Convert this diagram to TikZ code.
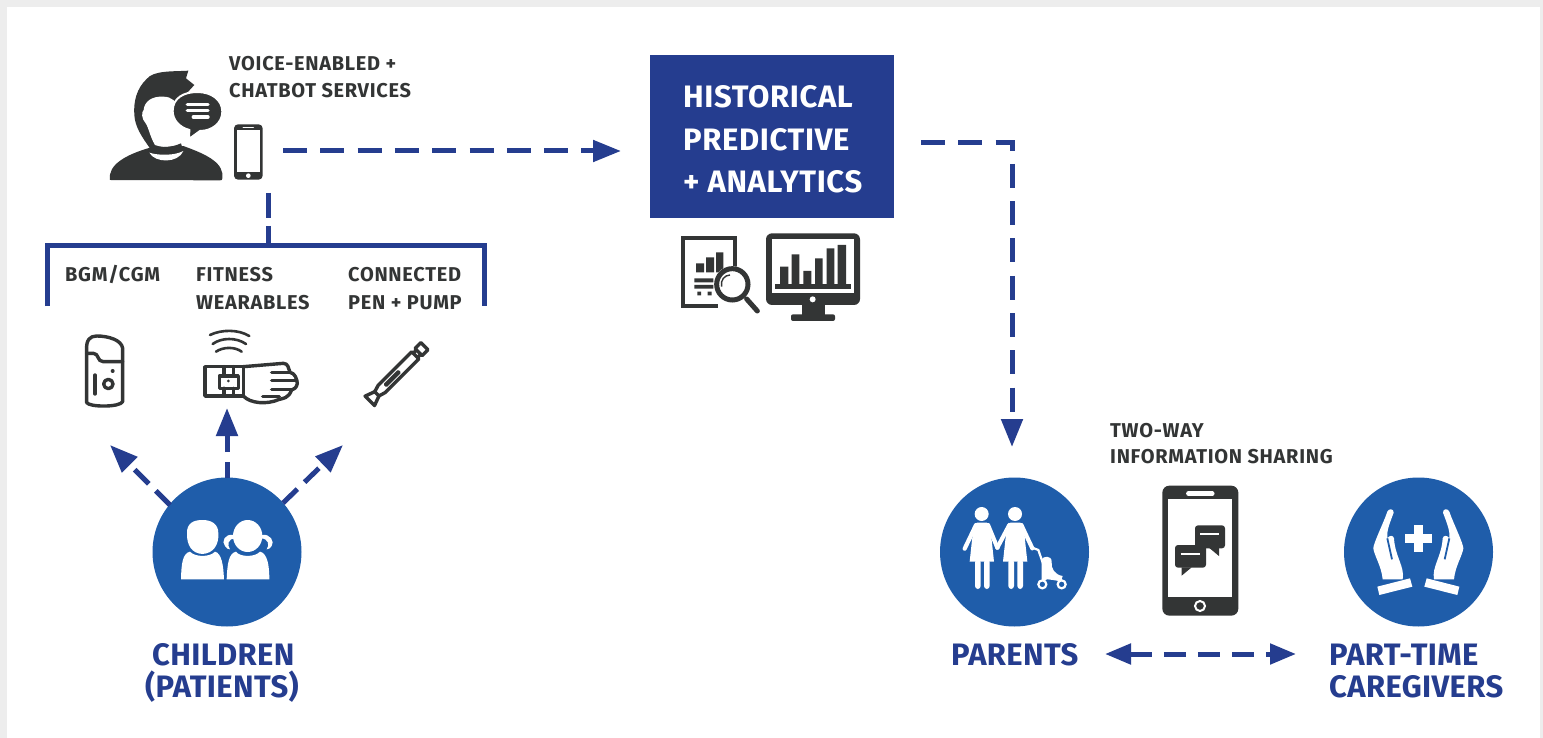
\documentclass[tikz,border=0pt]{standalone}
\usepackage{fontspec}
\usetikzlibrary{arrows.meta}
\setmainfont{Fira Sans}
\definecolor{navy}{HTML}{253D8F}
\definecolor{disc}{HTML}{1F5DAA}
\definecolor{ink}{HTML}{333535}
\definecolor{frame}{HTML}{EDEDED}
\tikzset{
  zm/.style 2 args={shift={(#1,#2)},x=.33333pt,y=-.33333pt},
  dashline/.style={draw=navy,line width=5pt,dash pattern=on 24pt off 13.3pt},
  solidarrow/.style={-{Triangle[length=28pt,width=21pt,fill=navy]}},
  dbl/.style={{Triangle[length=26pt,width=20pt,fill=navy]}-{Triangle[length=26pt,width=20pt,fill=navy]}},
  discnode/.style={circle,fill=disc,minimum size=149pt,inner sep=0pt,draw=none},
  lab/.style={anchor=base west,inner sep=0pt,text=ink,font=\fontsize{20}{24}\selectfont\bfseries\addfontfeature{LetterSpace=3.5}},
  big/.style={anchor=base west,inner sep=0pt,text=navy,font=\fontsize{31}{36}\selectfont\bfseries\addfontfeature{LetterSpace=1.2}},
  boxtext/.style={anchor=base west,inner sep=0pt,text=white,font=\fontsize{31}{36}\selectfont\bfseries\addfontfeature{LetterSpace=2}},
  iconline/.style={draw=ink,line width=3.4pt,line cap=round,line join=round},
}
\begin{document}
\begin{tikzpicture}[x=1pt,y=-1pt]
\useasboundingbox (0,0) rectangle (1543,738);
\fill[frame] (0,0) rectangle (1543,738);
\fill[white] (7,7) rectangle (1540,738);

% main box
\node[fill=navy,minimum width=244pt,minimum height=163pt,inner sep=0pt,anchor=north west] (box) at (650,55) {};
\node[boxtext] (t1) at (683,108) {HISTORICAL};
\node[boxtext] (t2) at (683,151) {PREDICTIVE};
\node[boxtext] (t3) at (683,193) {+ ANALYTICS};

% discs
\node[discnode] (children) at (227,552) {};
\node[discnode] (parents) at (1014.5,552) {};
\node[discnode] (care) at (1418.5,552) {};

% labels
\node[lab] (l1) at (229,71) {VOICE-ENABLED +};
\node[lab] (l2) at (229,98) {CHATBOT SERVICES};
\node[lab] (l3) at (65,282) {BGM/CGM};
\node[lab] (l4) at (196,282) {FITNESS};
\node[lab] (l5) at (196,309) {WEARABLES};
\node[lab] (l6) at (348,282) {CONNECTED};
\node[lab] (l7) at (348,309) {PEN + PUMP};
\node[lab] (l8) at (1110,437) {TWO-WAY};
\node[lab] (l9) at (1110,463) {INFORMATION SHARING};
\node[big] (b1) at (152,665) {CHILDREN};
\node[big] (b2) at (145,697) {(PATIENTS)};
\node[big] (b3) at (951,665) {PARENTS};
\node[big] (b4) at (1329,665) {PART-TIME};
\node[big] (b5) at (1329,697) {CAREGIVERS};

% connector anchors
\coordinate (phoneR) at (283,151);
\coordinate (boxIn) at (621,151);
\coordinate (boxOut) at (921,143);
\coordinate (corner) at (1012,143);
\coordinate (parentsIn) at (1012,447);
\coordinate (phoneB) at (268,193);
\coordinate (brTop) at (268,246);
\coordinate (brL) at (47,306);
\coordinate (brLt) at (47,246);
\coordinate (brRt) at (484,246);
\coordinate (brR) at (484,306);
\coordinate (a1) at (110,445);
\coordinate (a2) at (227,408);
\coordinate (a3) at (343,445);
\coordinate (s1) at (170,505);
\coordinate (s2) at (227,478);
\coordinate (s3) at (283,503);
\coordinate (dL) at (1105,654);
\coordinate (dR) at (1296,654);

% connectors
\draw[dashline,solidarrow] (phoneR) -- (boxIn);
\draw[dashline,solidarrow] (boxOut) -- (corner) -- (parentsIn);
\draw[dashline,dash pattern=on 25pt off 8pt] (phoneB) -- (brTop);
\draw[navy,line width=5pt] (brL) -- (brLt) -- (brRt) -- (brR);
\draw[dashline,dash pattern=on 20pt off 10pt,solidarrow] (s1) -- (a1);
\draw[dashline,dash pattern=on 16pt off 10pt,solidarrow] (s2) -- (a2);
\draw[dashline,dash pattern=on 20pt off 10pt,solidarrow] (s3) -- (a3);
\draw[dashline,dash pattern=on 22pt off 12pt,dbl] (dL) -- (dR);

% person with bubble
\begin{scope}[zm={105}{65}]
\fill[ink] (15,345) .. controls (8,300) and (60,270) .. (135,248) -- (235,243) .. controls (310,270) and (358,295) .. (352,340) .. controls (352,345) and (350,346) .. (345,346) -- cycle;
\fill[ink] (135,250) .. controls (110,215) and (90,185) .. (88,150) .. controls (85,110) and (95,70) .. (125,42) .. controls (145,15) and (210,20) .. (250,17) -- (243,40) -- (268,60) -- (245,85) -- (225,100) -- (200,240) -- cycle;
\fill[white] (150,240) .. controls (135,215) and (130,185) .. (122,175) .. controls (108,160) and (110,140) .. (116,135) .. controls (118,110) and (140,93) .. (175,95) .. controls (200,95) and (215,110) .. (220,130) -- (240,215) .. controls (225,235) and (200,245) .. (180,245) .. controls (170,245) and (160,245) .. (150,240) -- cycle;
\fill[ink] (148,243) .. controls (170,248) and (200,248) .. (228,235) -- (236,262) -- (134,262) -- cycle;
\fill[white] (133,263) .. controls (160,272) and (210,272) .. (235,258) .. controls (220,295) and (150,295) .. (133,263) -- cycle;
\fill[ink,draw=white,line width=2pt] (203,138) .. controls (203,100) and (235,81) .. (277,81) .. controls (320,81) and (352,105) .. (352,140) .. controls (352,175) and (320,198) .. (285,198) -- (252,222) -- (253,195) .. controls (223,187) and (203,165) .. (203,138) -- cycle;
\draw[white,line width=3.4pt,line cap=round] (247,118) -- (309,118) (247,137) -- (309,137) (265,156) -- (309,156);
\end{scope}

% phone
\begin{scope}[zm={90}{50}]
\fill[ink,rounded corners=4pt] (432,223) rectangle (518,389);
\fill[white] (440,240) rectangle (510,365);
\draw[white,line width=1.5pt,line cap=round] (460,233) -- (490,233);
\fill[white] (475,377) circle (7);
\end{scope}

% meter
\begin{scope}[zm={40}{320}]
\draw[iconline] (140,90) .. controls (138,60) and (150,48) .. (170,48) .. controls (205,48) and (245,60) .. (248,85) -- (248,245) .. controls (240,262) and (150,262) .. (140,248) -- cycle;
\draw[iconline] (140,100) -- (160,100) .. controls (178,100) and (170,125) .. (190,125) -- (248,125);
\draw[iconline] (165,165) -- (165,222);
\draw[iconline] (205,192) circle (14);
\fill[ink] (218,153) circle (6);
\end{scope}

% wrist wearable
\begin{scope}[zm={40}{320}]
\draw[iconline,line width=2.6pt] (510,45) .. controls (545,28) and (595,28) .. (628,48);
\draw[iconline,line width=2.6pt] (518,72) .. controls (545,52) and (590,52) .. (618,72);
\draw[iconline,line width=2.6pt] (528,95) .. controls (550,80) and (585,80) .. (605,95);
\draw[iconline] (495,140) rectangle (610,228);
\draw[iconline] (538,168) rectangle (595,205);
\draw[iconline] (552,140) -- (552,168) (580,140) -- (580,168) (552,205) -- (552,228) (580,205) -- (580,228);
\fill[ink] (565,183) circle (4.5);
\draw[iconline] (610,140) -- (730,130) .. controls (745,130) and (745,145) .. (750,157) .. controls (765,160) and (770,175) .. (772,190) .. controls (770,205) and (760,208) .. (755,210) .. controls (745,235) and (730,235) .. (718,238) .. controls (680,255) and (630,250) .. (610,228);
\draw[iconline] (695,157) -- (750,157) (695,182) -- (770,182) (695,208) -- (755,208) (668,230) -- (718,230);
\end{scope}

% pen
\begin{scope}[shift={(373.33,397.33)},rotate=45,x=.33333pt,y=-.33333pt]
\draw[iconline] (-15,-20) -- (-15,20) -- (15,9) -- (15,-9) -- cycle;
\draw[iconline] (15,-9) -- (35,-15) -- (178,-15) -- (178,15) -- (35,15) -- (15,9);
\draw[iconline] (178,-9) -- (192,-9) (178,9) -- (192,9);
\draw[iconline] (192,-15) rectangle (217,15);
\draw[iconline,line width=2.4pt] (52,-3) -- (108,-3) -- (108,3) -- (52,3) -- cycle;
\end{scope}

% report + magnifier
\begin{scope}[zm={670}{225}]
\draw[ink,line width=4pt] (195,128) -- (195,40) -- (40,40) -- (40,242) -- (145,242);
\fill[ink] (78,115) rectangle (102,142) (108,97) rectangle (132,142) (138,82) rectangle (160,142);
\fill[ink] (73,160) rectangle (130,172) (73,180) rectangle (130,191);
\fill[ink] (82,200) rectangle (93,211) (113,200) rectangle (125,211);
\fill[white] (187,178) circle (55);
\draw[ink,line width=5pt] (187,178) circle (47);
\draw[ink,line width=1.4pt] (155,185) .. controls (150,165) and (165,150) .. (180,150);
\draw[ink,line width=5pt,line cap=round] (230,222) -- (262,258);
\end{scope}

% monitor
\begin{scope}[zm={670}{225}]
\fill[ink,rounded corners=6pt] (288,25) rectangle (570,240);
\fill[white] (305,42) rectangle (553,205);
\fill[ink] (330,125) rectangle (355,180) (365,88) rectangle (388,180) (400,138) rectangle (424,180) (435,100) rectangle (458,180) (470,70) rectangle (493,180) (503,60) rectangle (528,180);
\fill[ink] (316,178) rectangle (542,192);
\fill[white] (428,223) circle (9);
\fill[ink] (395,238) rectangle (465,272);
\fill[ink,rounded corners=2pt] (363,268) rectangle (495,288);
\end{scope}

% children icon
\begin{scope}[zm={140}{470}]
\fill[white] (141,190) .. controls (140,160) and (160,150) .. (187,150) .. controls (215,150) and (235,162) .. (235,190) .. controls (237,225) and (220,250) .. (187,252) .. controls (155,250) and (140,225) .. (141,190) -- cycle;
\fill[white] (123,328) .. controls (124,280) and (128,250) .. (150,245) .. controls (165,262) and (210,262) .. (225,245) .. controls (245,250) and (250,285) .. (252,328) -- cycle;
\fill[white] (280,195) .. controls (255,190) and (243,215) .. (255,228) .. controls (258,235) and (265,238) .. (270,238) .. controls (260,225) and (265,205) .. (285,205) -- cycle;
\fill[white] (366,195) .. controls (390,190) and (405,215) .. (395,228) .. controls (392,235) and (385,238) .. (380,238) .. controls (390,225) and (385,205) .. (362,205) -- cycle;
\fill[white] (323,198) ellipse (44 and 48);
\fill[white] (260,328) .. controls (262,285) and (265,250) .. (288,245) .. controls (300,262) and (345,262) .. (360,245) .. controls (382,250) and (388,285) .. (388,328) -- cycle;
\end{scope}

% parents icon
\begin{scope}[zm={960}{500}]
\foreach \dx in {0,100}{
\begin{scope}[xshift=\dx*.33333pt]
\fill[white] (65,42) circle (21);
\fill[white] (42,78) .. controls (44,70) and (48,68) .. (52,68) -- (80,68) .. controls (84,68) and (90,72) .. (92,80) -- (95,120) -- (102,185) -- (29,185) -- (36,120) -- cycle;
\fill[white,rounded corners=3pt] (45,178) rectangle (62,267) (72,178) rectangle (89,267);
\end{scope}}
\draw[white,line width=4.2pt,line cap=round] (48,75) -- (14,146);
\draw[white,line width=4.2pt,line cap=round] (84,75) -- (112,143);
\draw[white,line width=4.2pt,line cap=round] (148,75) -- (112,143);
\draw[white,line width=4.2pt,line cap=round] (184,75) -- (217,145);
\draw[white,line width=2.2pt,line cap=round] (217,143) -- (235,150) -- (262,228);
\fill[white] (245,178) .. controls (250,168) and (275,165) .. (275,185) .. controls (272,205) and (285,225) .. (308,228) -- (305,237) -- (245,237) -- cycle;
\draw[white,line width=2.2pt] (247,253) circle (12) (305,253) circle (12);
\draw[white,line width=2.2pt] (247,241) -- (262,234) -- (305,241);
\end{scope}

% caregivers icon
\begin{scope}[zm={1330}{470}]
\fill[white] (225,192) rectangle (305,218);
\fill[white] (252,165) rectangle (279,245);
\end{scope}
\foreach \xs/\sx in {.33333/1330,-.33333/1506.67}{
\begin{scope}[shift={(\sx,470)},x=\xs pt,y=-.33333pt]
\fill[white] (172,125) .. controls (160,160) and (130,220) .. (130,235) .. controls (132,255) and (155,290) .. (158,328) -- (218,328) .. controls (225,290) and (195,260) .. (192,205) .. controls (190,195) and (178,195) .. (172,205) .. controls (170,185) and (175,170) .. (191,128) .. controls (192,115) and (175,115) .. (172,125) -- cycle;
\draw[disc,line width=1.8pt] (172,205) -- (186,268);
\fill[white] (142,350) -- (240,325) -- (247,350) -- (148,375) -- cycle;
\end{scope}}

% sharing phone
\begin{scope}[zm={930}{470}]
\fill[ink,rounded corners=7pt] (697,47) rectangle (925,437);
\fill[white] (715,88) rectangle (907,382);
\draw[white,line width=4.4pt,line cap=round] (775,71) -- (847,71);
\draw[white,line width=2pt] (810,408) circle (15);
\fill[ink,rounded corners=3pt] (795,166) rectangle (885,235);
\fill[ink] (838,234) -- (867,258) -- (867,234) -- cycle;
\draw[white,line width=1.8pt] (810,191) -- (868,191);
\fill[ink,rounded corners=3pt] (735,225) rectangle (828,293);
\fill[ink] (755,292) -- (755,317) -- (785,292) -- cycle;
\draw[white,line width=1.8pt] (752,251) -- (810,251);
\end{scope}
\end{tikzpicture}
\end{document}
